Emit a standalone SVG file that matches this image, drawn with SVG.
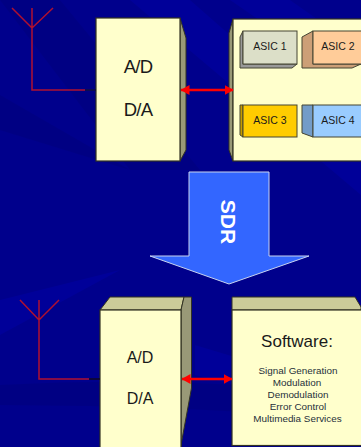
<svg xmlns="http://www.w3.org/2000/svg" width="361" height="447" viewBox="0 0 361 447">
<defs>
<marker id="ah" viewBox="0 0 9 10" refX="8.500" refY="5" markerWidth="9" markerHeight="10" orient="auto-start-reverse" markerUnits="userSpaceOnUse"><path d="M0 0L9 5L0 10Z" fill="#ff0000"/></marker>
</defs>
<style>
text{font-family:"Liberation Sans",Arial,sans-serif;text-anchor:middle;fill:#1a1a1a}
.f{fill:#ffffcc;stroke:#333322;stroke-width:1.2}
.s{fill:#999977;stroke:#333322;stroke-width:1}
.t{fill:#cccc99;stroke:#333322;stroke-width:1}
.ant{fill:none;stroke:#b01030;stroke-width:1.500}
.lk{fill:none;stroke:#ff0000;stroke-width:2.500;marker-start:url(#ah);marker-end:url(#ah)}
.big{font-size:18.500px;letter-spacing:-.7px}
.a{font-size:10.500px}
.sm{font-size:9.900px;fill:#26303a}
.b{stroke:#444433;stroke-width:1}
</style>
<g id="background">
<rect width="361" height="447" fill="#00008c"/>
<path d="M0 0H60L200 170H130ZM0 95L130 170L0 130ZM0 385Q180 375 361 395V420Q180 405 0 405Z" fill="#000070" opacity=".3"/>
<path d="M130 0H190L361 150V195ZM230 0H290L361 50V90ZM195 345L361 395V415L195 375ZM0 300L120 270L0 335Z" fill="#0000a8" opacity=".45"/>
</g>
<g id="adda-top">
<path class="s" d="M180 18L186 38V150L180 161Z"/>
<rect class="f" x="96" y="18" width="84" height="143"/>
<text class="big" x="138" y="73">A/D</text>
<text class="big" x="138" y="116">D/A</text>
</g>
<g id="asic-board">
<path class="s" d="M233 19L229 33V150L233 161Z"/>
<rect class="f" x="233" y="19" width="140" height="142"/>
</g>
<g id="asic1">
<path class="b" fill="#999999" d="M243 31L240 37V68H292L297 64H243Z"/>
<rect class="b" fill="#dcdfc8" x="243" y="31" width="54" height="33"/>
<text class="a" x="270" y="50">ASIC 1</text>
</g>
<g id="asic2">
<path class="b" fill="#cc9f77" d="M313 31L302 37V68H352L361 64H313Z"/>
<rect class="b" fill="#ffcc99" x="313" y="31" width="54" height="33"/>
<text class="a" x="338" y="50">ASIC 2</text>
</g>
<g id="asic3">
<path class="b" fill="#c49a00" d="M243 105H240V135L243 137Z"/>
<rect class="b" fill="#ffcc00" x="243" y="105" width="54" height="32"/>
<text class="a" x="270" y="124">ASIC 3</text>
</g>
<g id="asic4">
<path class="b" fill="#739cc8" d="M313 105H302V133L313 137Z"/>
<rect class="b" fill="#99ccff" x="313" y="105" width="54" height="32"/>
<text class="a" x="338" y="124">ASIC 4</text>
</g>
<g id="sdr-arrow">
<path d="M189 172H269V256H309L229 284L150 256H189Z" fill="#3366ff" stroke="#c8d4f0" stroke-width="1"/>
<text transform="translate(221 222) rotate(90)" font-size="21" font-weight="700" style="fill:#fff">SDR</text>
</g>
<g id="adda-bottom">
<path class="t" d="M100 310L110 297H184L181 310Z"/>
<path class="s" d="M181 310L184 297H191.500V388L181 445V460Z"/>
<rect class="f" x="100" y="310" width="81" height="150"/>
<text x="140" y="363" font-size="16">A/D</text>
<text x="140" y="404" font-size="16">D/A</text>
</g>
<g id="software">
<path class="t" d="M232 310V297H355L361 307V310Z"/>
<rect class="f" x="232" y="310" width="140" height="135.500"/>
<text x="297" y="347" font-size="17">Software:</text>
<text class="sm" x="298" y="374">Signal Generation</text>
<text class="sm" x="297" y="386">Modulation</text>
<text class="sm" x="298" y="398">Demodulation</text>
<text class="sm" x="298" y="410">Error Control</text>
<text class="sm" x="297.500" y="422">Multimedia Services</text>
</g>
<g id="connectors">
<path class="ant" d="M32 8V90H85M12 8L32 28L53 8"/>
<path d="M85 90H96" stroke="#101040" stroke-width="1.500"/>
<path class="ant" d="M39 300V379H89M20 300L39 320L59 300"/>
<path d="M89 379H100" stroke="#100820" stroke-width="1.500"/>
<path class="lk" d="M181 90H233"/>
<path class="lk" d="M182 379H232"/>
</g>
</svg>
